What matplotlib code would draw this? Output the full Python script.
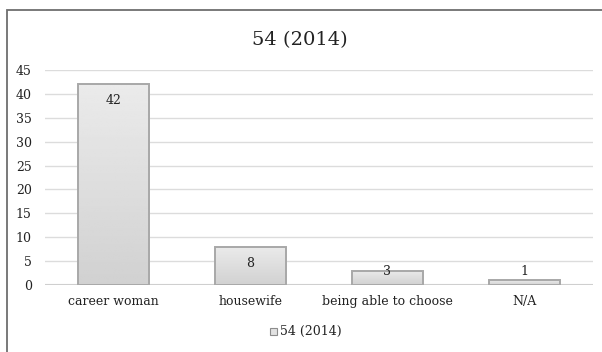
import numpy as np
import matplotlib
matplotlib.use('Agg')
import matplotlib.pyplot as plt
from matplotlib.patches import Rectangle

# survey answers, 2014 group
categories = ['career woman', 'housewife', 'being able to choose', 'N/A']
counts = [42, 8, 3, 1]
series_name = '54 (2014)'
yticks = list(range(0, 50, 5))

plt.rcParams['font.family'] = ['DejaVu Serif']

fig = plt.figure(figsize=(6.02, 3.52), dpi=100)
W, H = 602, 352

# chart frame (left and top edges visible)
fig.patches.append(Rectangle((6.5 / W, -0.1), 1.2, 1 - 10.5 / H + 0.1,
                             transform=fig.transFigure, fill=False,
                             edgecolor='#6e6e6e', linewidth=1.3))

ax = fig.add_axes([45 / W, 1 - 285 / H, 548 / W, 215 / H])
ax.set_yticks(yticks)
ax.set_xticks(range(len(categories)))
ax.set_xticklabels(categories)
for s in ax.spines.values():
    s.set_visible(False)
ax.tick_params(length=0, labelsize=9, colors='#222222')
ax.tick_params(axis='y', pad=9.5)
ax.tick_params(axis='x', pad=7)
ax.yaxis.grid(True, color='#dcdcdc', linewidth=1)
ax.axhline(0, color='#cfcfcf', linewidth=1.5, zorder=1)
ax.set_axisbelow(True)

x = np.arange(len(categories))
bars = ax.bar(x, counts, width=0.52, facecolor='none', edgecolor='#a8a8a8',
              linewidth=1.4, zorder=3)

# vertical grey gradient inside each bar, lighter at the top
grad = np.linspace(0.92, 0.82, 100).reshape(-1, 1)
for b in bars:
    x0, y0 = b.get_x(), b.get_y()
    im = ax.imshow(grad, cmap='gray', vmin=0, vmax=1, aspect='auto',
                   extent=(x0, x0 + b.get_width(), y0, y0 + b.get_height()),
                   zorder=2, interpolation='bilinear')
    im.set_clip_path(b)
    # soft drop shadow
    ax.add_patch(Rectangle((x0 + 0.01, y0 - 0.25), b.get_width(), b.get_height(),
                           facecolor='#e4e4e4', edgecolor='none', zorder=1.5))
ax.set_xlim(-0.5, len(categories) - 0.5)
ax.set_ylim(0, 45)

# data labels: inside the end when there is room, otherwise just above the axis
for xi, v in zip(x, counts):
    ax.text(xi, max(v - 3.4, 2.93), str(v), ha='center', va='center',
            fontsize=9, color='#222222', zorder=4)

fig.text(300 / W, 1 - 40 / H, series_name, ha='center', va='center',
         fontsize=14, color='#222222')

# legend
fig.patches.append(Rectangle((270 / W, 1 - 335 / H), 7 / W, 7 / H,
                             transform=fig.transFigure, facecolor='#e2e2e2',
                             edgecolor='#8c8c8c', linewidth=0.8))
fig.text(280 / W, 1 - 331.5 / H, series_name, ha='left', va='center',
         fontsize=9, color='#222222')

fig.savefig('out.png', dpi=100)
